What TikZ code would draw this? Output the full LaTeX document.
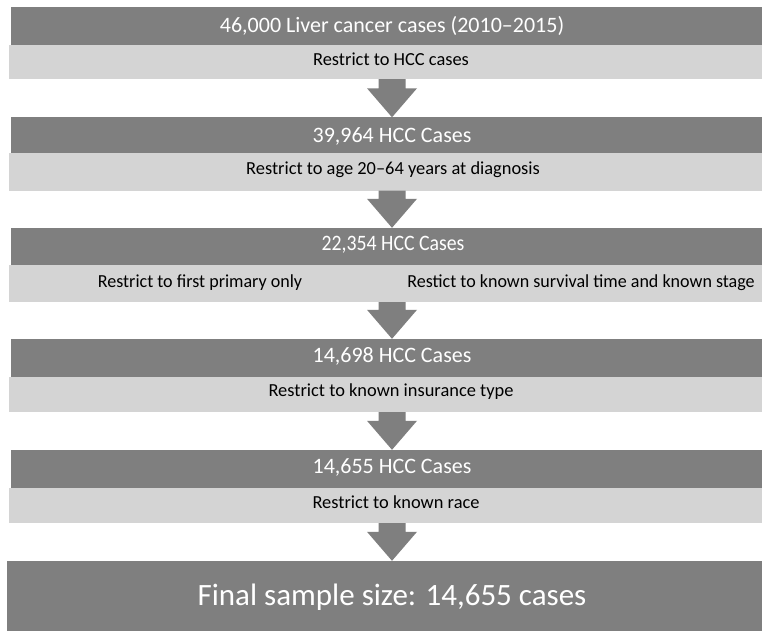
\documentclass[tikz,border=0pt]{standalone}
\usepackage{fontspec}
\setmainfont{Carlito}
\usetikzlibrary{calc}
\definecolor{bandDark}{RGB}{127,127,127}
\definecolor{bandLight}{RGB}{212,212,212}
\newcommand{\flowarrow}[2]{%
  \fill[bandDark] let \p1=(#1.south), \p2=(#2.north) in
    (378.5pt,\y1) -- (405.5pt,\y1) -- (405.5pt,{\y2+29pt}) -- (417pt,{\y2+29pt})
    -- (392pt,\y2) -- (367pt,{\y2+29pt}) -- (378.5pt,{\y2+29pt}) -- cycle;}
\begin{document}
\begin{tikzpicture}[x=1pt,y=-1pt,
  darkband/.style={fill=bandDark,draw=none,inner sep=0pt,minimum width=751pt},
  lightband/.style={fill=bandLight,draw=none,inner sep=0pt,minimum width=753pt},
  darktext/.style={text=white,font=\fontsize{22}{24}\selectfont,inner sep=0pt,anchor=center},
  lighttext/.style={text=black,font=\fontsize{18.4}{20}\selectfont,inner sep=0pt,anchor=center}]
\useasboundingbox[fill=white] (0,0) rectangle (762,631);
% bands
\node[darkband,minimum height=38pt] (d1) at (386.5,26) {};
\node[lightband,minimum height=34pt] (l1) at (385.5,62) {};
\node[darkband,minimum height=36pt] (d2) at (386.5,135.5) {};
\node[lightband,minimum height=37pt] (l2) at (385.5,172) {};
\node[darkband,minimum height=37pt] (d3) at (386.5,246.5) {};
\node[lightband,minimum height=37pt] (l3) at (385.5,283.5) {};
\node[darkband,minimum height=38pt] (d4) at (386.5,358) {};
\node[lightband,minimum height=35pt] (l4) at (385.5,394.5) {};
\node[darkband,minimum height=38pt] (d5) at (386.5,469) {};
\node[lightband,minimum height=35pt] (l5) at (385.5,505.5) {};
\node[fill=bandDark,draw=none,inner sep=0pt,minimum width=755pt,minimum height=70pt] (fin) at (384.5,596) {};
% texts
\node[darktext] (t1) at (392,26) {46,000 Liver cancer cases (2010--2015)};
\node[lighttext] (s1) at (391,59) {Restrict to HCC cases};
\node[darktext] (t2) at (392,136) {39,964 HCC Cases};
\node[lighttext] (s2) at (393,170) {Restrict to age 20--64 years at diagnosis};
\node[darktext] (t3) at (393,245) {\scalebox{0.9}[1]{22,354 HCC Cases}};
\node[lighttext] (s3a) at (200,283) {\scalebox{0.98}[1]{Restrict to first primary only}};
\node[lighttext] (s3b) at (581,283) {\scalebox{0.98}[1]{Restict to known survival time and known stage}};
\node[darktext] (t4) at (392,356) {14,698 HCC Cases};
\node[lighttext] (s4) at (391,392) {Restrict to known insurance type};
\node[darktext] (t5) at (392,467) {14,655 HCC Cases};
\node[lighttext] (s5) at (396,502) {Restrict to known race};
\node[text=white,font=\fontsize{31}{34}\selectfont,inner sep=0pt] (tf) at (392,597) {Final sample size: 14,655 cases};
% arrows
\flowarrow{l1}{d2}
\flowarrow{l2}{d3}
\flowarrow{l3}{d4}
\flowarrow{l4}{d5}
\flowarrow{l5}{fin}
\end{tikzpicture}
\end{document}
